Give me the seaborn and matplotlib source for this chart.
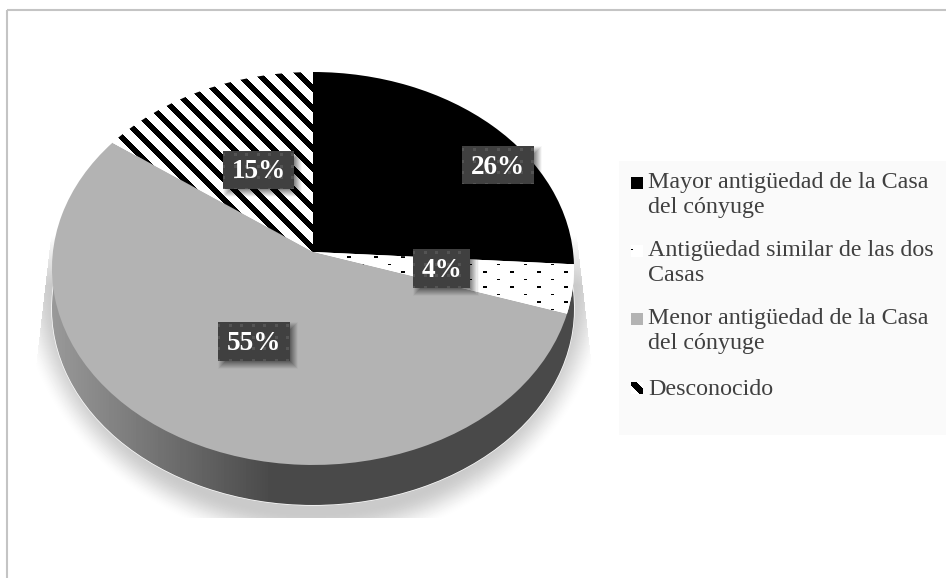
import numpy as np
import seaborn as sns
import matplotlib.pyplot as plt
from matplotlib.patches import Rectangle
from matplotlib.transforms import Transform

# data
values = [26, 4, 55, 15]
pct_labels = ["26%", "4%", "55%", "15%"]
legend_labels = ["Mayor antigüedad de la Casa\ndel cónyuge",
                 "Antigüedad similar de las dos\nCasas",
                 "Menor antigüedad de la Casa\ndel cónyuge",
                 "Desconocido"]
slice_colors = ["#000000", "#ffffff", "#b3b3b3", "#ffffff"]

W, H = 946, 578
SERIF = "Liberation Serif"


# tilted disc: unit circle to pixel position, vertex sits above the ellipse middle
class Tilt(Transform):
    input_dims = 2
    output_dims = 2
    is_separable = False

    def __init__(self, dy=0):
        super().__init__()
        self.dy = dy

    def transform_non_affine(self, values):
        values = np.asarray(values, dtype=float)
        den = 1 + 0.0839 * values[:, 1]
        return np.column_stack([313 + 260.1 * values[:, 0] / den,
                                252 + self.dy - 195.1 * values[:, 1] / den])


sns.set_theme(style="white")
fig = plt.figure(figsize=(W / 100, H / 100), dpi=100, facecolor="white")
ax = fig.add_axes([0, 0, 1, 1])
xx, yy = np.meshgrid(np.arange(W) + 0.5, np.arange(H) + 0.5)
extent = (0, W, H, 0)


def paint(arr, zorder, clip=None, alpha=None):
    im = ax.imshow(arr, extent=extent, cmap="gray", vmin=0, vmax=1, aspect="auto",
                   interpolation="nearest", zorder=zorder, alpha=alpha)
    if clip is not None:
        im.set_clip_path(clip)
    return im


# soft shadow under the disc
r = np.hypot((xx - 313) / 290, (yy - 270) / 270)
fade = np.clip((1.03 - r) / 0.13, 0, 1)
fade = fade * fade * (3 - 2 * fade) * np.clip((yy - 235) / 50, 0, 1)
shade = 1 - 0.21 * fade
edge = 36 + np.clip(367 - yy, 0, None) * 17 / 147
shade[(yy > 518) | (xx < edge) | (xx > 627 - edge)] = 1
paint(shade, 1)

# side of the disc
side, _ = ax.pie([1], radius=1, colors=["#4a4a4a"], startangle=90)
side[0].set_transform(Tilt(40) + ax.transData)
side[0].set_zorder(2)
grad = np.interp(xx, [52, 270], [0.60, 0.29])
paint(grad, 3, clip=side[0])

# top face
wedges, _ = ax.pie(values, radius=1, startangle=90, counterclock=False,
                   colors=sns.color_palette(slice_colors))
for w in wedges:
    w.set_transform(Tilt() + ax.transData)
    w.set_zorder(4)
    w.set_linewidth(0)

# fill patterns
dots = np.ones((H, W))
for k in range(-40, 60):
    y0 = 257 + 7.5 * k
    for m in range(-15, 30):
        x0 = 349 + 27 * m + 13.5 * (k % 2)
        dots[(np.abs(xx - x0) < 1.6) & (np.abs(yy - y0) < 1.0)] = 0
stripes = np.where(((xx - yy - 161) % 20) < 8, 0.0, 1.0)
paint(dots, 5, clip=wedges[1])
paint(stripes, 5, clip=wedges[3])

# percentage tags: dark dotted boxes with a blurred drop shadow
tag_boxes = [(462, 146, 533, 184), (413, 249, 470, 288), (218, 322, 290, 361), (223, 151, 294, 189)]
tag_gray = np.zeros((H, W))
tag_alpha = np.zeros((H, W))
for x0, y0, x1, y1 in tag_boxes:
    d = np.maximum(np.abs(xx - (x0 + x1) / 2 - 4) - (x1 - x0) / 2,
                   np.abs(yy - (y0 + y1) / 2 - 4) - (y1 - y0) / 2)
    tag_alpha = np.maximum(tag_alpha, 0.5 * np.clip((4 - d) / 8, 0, 1))
for x0, y0, x1, y1 in tag_boxes:
    box = (xx >= x0) & (xx < x1) & (yy >= y0) & (yy < y1)
    tag_alpha[box] = 1
    tag_gray[box] = 0.25
    spot = box & (np.abs((xx - x0 + 5) % 11.5 - 5.75) < 1.5) & (np.abs((yy - y0 + 2) % 11.5 - 5.75) < 1.5)
    tag_gray[spot] = 0.33
paint(tag_gray, 7, alpha=tag_alpha)
for lab, (x0, y0, x1, y1) in zip(pct_labels, tag_boxes):
    ax.text((x0 + x1) / 2, (y0 + y1) / 2 + 2, lab, ha="center", va="center", color="white",
            zorder=8, family=SERIF, weight="bold", fontsize=19.5)

# legend panel
ax.add_patch(Rectangle((619, 161), W - 619, 274, facecolor="#fafafa", edgecolor="none", zorder=1))
text_y = [172, 240, 308, 379]
key_y = [177, 245, 313, 382]
key_colors = ["#000000", "#ffffff", "#b3b3b3", "#ffffff"]
keys = []
for lab, ty, ky, c in zip(legend_labels, text_y, key_y, key_colors):
    ax.text(648, ty, lab, ha="left", va="top", color="#404040", family=SERIF,
            fontsize=17.3, linespacing=1.22, zorder=8)
    keys.append(ax.add_patch(Rectangle((631, ky), 12, 12, facecolor=c, edgecolor="none", zorder=6)))
ax.add_patch(Rectangle((631, 248.5), 1.5, 1.5, facecolor="black", edgecolor="none", zorder=7))
paint(np.where(((xx - yy - 246) % 21.7) < 9, 0.0, 1.0), 7, clip=keys[3])

# chart frame
ax.add_patch(Rectangle((7, 10), W, H, facecolor="none", edgecolor="#c4c4c4", linewidth=1.5, zorder=9))

ax.set_aspect("auto")
ax.set_xlim(0, W)
ax.set_ylim(H, 0)
ax.axis("off")
fig.savefig("out.png", dpi=100)
